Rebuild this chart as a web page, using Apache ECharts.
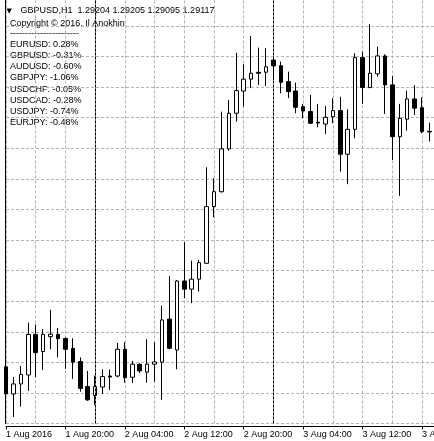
<!DOCTYPE html>
<html>
<head>
<meta charset="utf-8">
<script src="https://cdn.jsdelivr.net/npm/echarts@6/dist/echarts.min.js"></script>
<style>
html, body { margin: 0; padding: 0; background: #fff; }
#chart { width: 434px; height: 441px; }
</style>
</head>
<body>
<div id="chart"></div>
<script>
// GBPUSD H1, 1 Aug 12:00 .. 3 Aug 21:00
const opens = [1.31978, 1.31845, 1.31894, 1.31938, 1.32137, 1.32053, 1.32126, 1.32137, 1.32117, 1.32068,
    1.32004, 1.31881, 1.31837, 1.31879, 1.31933, 1.31933, 1.32064, 1.31927, 1.31990, 1.31952,
    1.31991, 1.32001, 1.32212, 1.32061, 1.32399, 1.32359, 1.32408, 1.32486, 1.32764, 1.32837,
    1.33047, 1.33222, 1.33331, 1.33389, 1.33423, 1.33423, 1.33483, 1.33455, 1.33377, 1.33331,
    1.33254, 1.33230, 1.33178, 1.33169, 1.33205, 1.33235, 1.33021, 1.33143, 1.33495, 1.33348,
    1.33415, 1.33503, 1.33361, 1.33107, 1.33193, 1.33292, 1.33249, 1.33133]
const closes = [1.31845, 1.31894, 1.31941, 1.32137, 1.32048, 1.32137, 1.32138, 1.32116, 1.32064, 1.32001,
    1.31872, 1.31816, 1.31881, 1.31930, 1.31928, 1.32064, 1.31925, 1.31991, 1.31958, 1.31991,
    1.32002, 1.32208, 1.32069, 1.32399, 1.32359, 1.32408, 1.32489, 1.32764, 1.32837, 1.33047,
    1.33222, 1.33333, 1.33389, 1.33418, 1.33418, 1.33450, 1.33454, 1.33374, 1.33328, 1.33251,
    1.33233, 1.33173, 1.33174, 1.33202, 1.33235, 1.33021, 1.33143, 1.33495, 1.33348, 1.33418,
    1.33503, 1.33361, 1.33107, 1.33197, 1.33292, 1.33247, 1.33132, 1.33130]
const highs = [1.32095, 1.31928, 1.31982, 1.32195, 1.32186, 1.32162, 1.32257, 1.32169, 1.32123, 1.32118,
    1.32024, 1.31958, 1.31935, 1.31966, 1.31965, 1.32095, 1.32099, 1.32007, 1.31996, 1.32113,
    1.32099, 1.32278, 1.32424, 1.32404, 1.32589, 1.32499, 1.32502, 1.32957, 1.32903, 1.33230,
    1.33287, 1.33519, 1.33462, 1.33601, 1.33544, 1.33541, 1.33498, 1.33475, 1.33426, 1.33372,
    1.33268, 1.33312, 1.33268, 1.33258, 1.33296, 1.33303, 1.33241, 1.33516, 1.33524, 1.33659,
    1.33549, 1.33511, 1.33405, 1.33268, 1.33333, 1.33359, 1.33300, 1.33176]
const lows = [1.31821, 1.31732, 1.31783, 1.31860, 1.31928, 1.31963, 1.32064, 1.32025, 1.31968, 1.31919,
    1.31856, 1.31811, 1.31791, 1.31845, 1.31865, 1.31927, 1.31900, 1.31898, 1.31947, 1.31900,
    1.31905, 1.31816, 1.32066, 1.31966, 1.32315, 1.32290, 1.32347, 1.32483, 1.32712, 1.32833,
    1.33038, 1.33181, 1.33254, 1.33345, 1.33361, 1.33356, 1.33385, 1.33320, 1.33296, 1.33222,
    1.33197, 1.33169, 1.33153, 1.33120, 1.33173, 1.32936, 1.32874, 1.33099, 1.33268, 1.33345,
    1.33401, 1.33219, 1.32993, 1.32816, 1.33137, 1.33214, 1.33124, 1.33083]

const tickLabels = ['1 Aug 2016', '1 Aug 20:00', '2 Aug 04:00', '2 Aug 12:00',
    '2 Aug 20:00', '3 Aug 04:00', '3 Aug 12:00', '3 Aug 20:00']
const daySeparators = ['2 Aug 00:00', '3 Aug 00:00']

const headerOHLC = ['1.29204', '1.29205', '1.29095', '1.29117']
const pairs = ['EURUSD', 'GBPUSD', 'AUDUSD', 'GBPJPY', 'USDCHF', 'USDCAD', 'USDJPY', 'EURJPY']
const changes = ['0.28', '-0.31', '-0.60', '-1.06', '-0.05', '-0.28', '-0.74', '-0.48']

// hourly categories (one extra slot on the right, past the edge)
const days = ['1 Aug', '2 Aug', '3 Aug']
const hours = []
for (let h = 12; h <= 70; h++) {
    hours.push(days[Math.floor(h / 24)] + ' ' + String(h % 24).padStart(2, '0') + ':00')
}

const candles = opens.map((o, i) => [o, closes[i], lows[i], highs[i]])

const font = '9px "Liberation Sans"'
const texts = [
    { type: 'text', style: { text: '▼', x: 6.5, y: 11, fill: '#000', font: '7px "DejaVu Sans"', verticalAlign: 'middle' } },
    { type: 'text', style: { text: 'GBPUSD,H1  ' + headerOHLC.join(' '), x: 20.5, y: 11, fill: '#000', font, verticalAlign: 'middle' } },
    { type: 'text', style: { text: 'Copyright © 2016, Il Anokhin', x: 10, y: 24, fill: '#000', font, verticalAlign: 'middle' } },
    { type: 'text', style: { text: '-----------------------', x: 10, y: 34, fill: '#000', font, verticalAlign: 'middle' } }
]
pairs.forEach((p, i) => {
    texts.push({ type: 'text', style: { text: p + ': ' + changes[i] + '%', x: 10, y: 44.3 + i * 11.2, fill: '#000', font, verticalAlign: 'middle' } })
})

var myChart = echarts.init(document.getElementById('chart'))
var option = {
    animation: false,
    backgroundColor: '#fff',
    grid: { left: 6, right: -2.9, top: -4.6, bottom: 17.5, containLabel: false, outerBoundsMode: 'none' },
    xAxis: {
        type: 'category',
        data: hours,
        boundaryGap: false,
        offset: 3,
        axisLine: { lineStyle: { color: '#000', width: 1 } },
        axisTick: { interval: 7, length: 3, lineStyle: { color: '#000' } },
        axisLabel: {
            interval: 7, align: 'left', margin: 4, color: '#000',
            fontSize: 9, fontFamily: 'Liberation Sans',
            formatter: (v, i) => tickLabels[i / 8]
        },
        splitLine: { show: true, interval: 3, lineStyle: { color: '#b4b4b4', type: [3, 2] } }
    },
    yAxis: {
        type: 'value',
        min: 1.3170,
        max: 1.3380,
        interval: 0.0015,
        offset: 1,
        axisLine: { show: true, lineStyle: { color: '#000' } },
        axisTick: { show: false },
        axisLabel: { show: false },
        splitLine: { lineStyle: { color: '#b4b4b4', type: [3, 2] } }
    },
    series: [{
        type: 'candlestick',
        data: candles,
        barWidth: 4,
        silent: true,
        itemStyle: { color: '#fff', color0: '#000', borderColor: '#000', borderColor0: '#000', borderWidth: 1 },
        markLine: {
            silent: true,
            symbol: 'none',
            label: { show: false },
            lineStyle: { color: '#000', type: [3, 1], width: 1 },
            data: daySeparators.map(d => ({ xAxis: d }))
        }
    }],
    graphic: texts
}
myChart.setOption(option)
</script>
</body>
</html>
